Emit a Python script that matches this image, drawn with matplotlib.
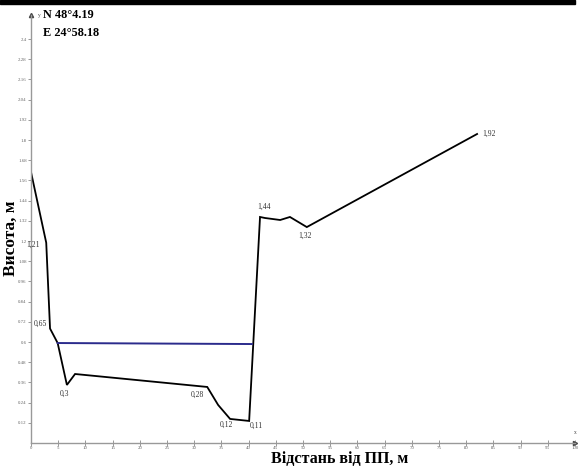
import matplotlib
matplotlib.use('Agg')
import numpy as np
import matplotlib.pyplot as plt
from matplotlib.patches import Rectangle

# profile of the river bed (distance from gauge, m / height, m)
dist = [0, 2.8, 3.5, 4.9, 6.6, 8.1, 32.4, 34.4, 36.6, 40.1,
        42.1, 43.0, 45.8, 47.6, 50.7, 82.0]
height = [1.61, 1.19, 0.68, 0.594, 0.345, 0.410, 0.333, 0.226, 0.143, 0.131,
          1.343, 1.337, 1.325, 1.343, 1.283, 1.836]

# water level
water_x = [4.9, 40.6]
water_y = [0.594, 0.588]

# point labels
label_idx = [1, 2, 4, 6, 8, 9, 10, 14, 15]
label_txt = ['1,21', '0,65', '0,3', '0,28', '0,12', '0,11', '1,44', '1,32', '1,92']

yticks = [0.12, 0.24, 0.36, 0.48, 0.60, 0.72, 0.84, 0.96, 1.08, 1.20,
          1.32, 1.44, 1.56, 1.68, 1.80, 1.92, 2.04, 2.16, 2.28, 2.40]
xticks = list(range(0, 101, 5))

W, H = 581, 468
fig = plt.figure(figsize=(W / 100, H / 100), dpi=100)
ax = fig.add_axes([31 / W, 1 - 443 / H, (575 - 31) / W, (443 - 15) / H])
ax.set_xlim(0, 100)
ax.set_ylim(0, (443 - 15) / 168.3)

ax.plot(dist, height, color='black', lw=1.3, solid_joinstyle='miter')
ax.plot(water_x, water_y, color='#2b2b8c', lw=1.4)

# label offsets in pixels (dx right, dy down)
offs = [(-6, 2, 'right'), (-3, -5, 'right'), (-2, 9, 'center'), (-10, 8, 'center'),
        (-4, 6, 'center'), (7, 5, 'center'), (4, -10, 'center'), (-2, 9, 'center'),
        (5, 0, 'left')]
for i, t, (dx, dy, ha) in zip(label_idx, label_txt, offs):
    ax.annotate(t, (dist[i], height[i]), xytext=(dx * 0.72, -dy * 0.72),
                textcoords='offset points', ha=ha, va='center',
                fontsize=5.5, family='Liberation Serif', color='#333333')

for s in ['top', 'right']:
    ax.spines[s].set_visible(False)
for s in ['left', 'bottom']:
    ax.spines[s].set_color('#999999')
    ax.spines[s].set_linewidth(1.0)

ax.set_yticks(yticks)
ax.set_yticklabels([('%.2f' % v).rstrip('0') if v in (2.40, 1.80, 1.20, 0.60) else '%.2f' % v
                    for v in yticks])
ax.set_xticks(xticks)
ax.tick_params(axis='both', labelsize=3.5, colors='#888888', length=2, width=0.6,
               labelcolor='#666666')
ax.tick_params(axis='y', pad=1)
ax.tick_params(axis='x', direction='inout', length=4, pad=0.5)
for lab in ax.get_xticklabels() + ax.get_yticklabels():
    lab.set_family('Liberation Serif')

# axis arrows
ax.plot(1, 0, '>', color='#444444', ms=3, transform=ax.transAxes, clip_on=False)
ax.plot(0, 1, '^', color='#444444', ms=3, transform=ax.transAxes, clip_on=False)
ax.text(1.0, 0.02, 'x', transform=ax.transAxes, fontsize=4, ha='center',
        family='Liberation Serif', color='#444444')
ax.text(0.012, 1.0, 'y', transform=ax.transAxes, fontsize=4, va='center',
        family='Liberation Serif', color='#444444')

# titles
fig.text(43 / W, 1 - 15 / H, 'N 48°4.19', fontsize=8.8, fontweight='bold',
         family='Liberation Serif', va='center')
fig.text(43 / W, 1 - 33 / H, 'E 24°58.18', fontsize=8.8, fontweight='bold',
         family='Liberation Serif', va='center')
fig.text(11 / W, 1 - 238 / H, 'Висота, м', fontsize=12.5, fontweight='bold',
         family='Liberation Serif', rotation=90, ha='center', va='center')
fig.text(340 / W, 1 - 459 / H, 'Відстань від ПП, м', fontsize=11.5, fontweight='bold',
         family='Liberation Serif', ha='center', va='center')

# black strip at top of the image
fig.patches.append(Rectangle((0, 1 - 4 / H), 575 / W, 4 / H, transform=fig.transFigure,
                             color='black', zorder=5))

fig.savefig('out.png', dpi=100)
